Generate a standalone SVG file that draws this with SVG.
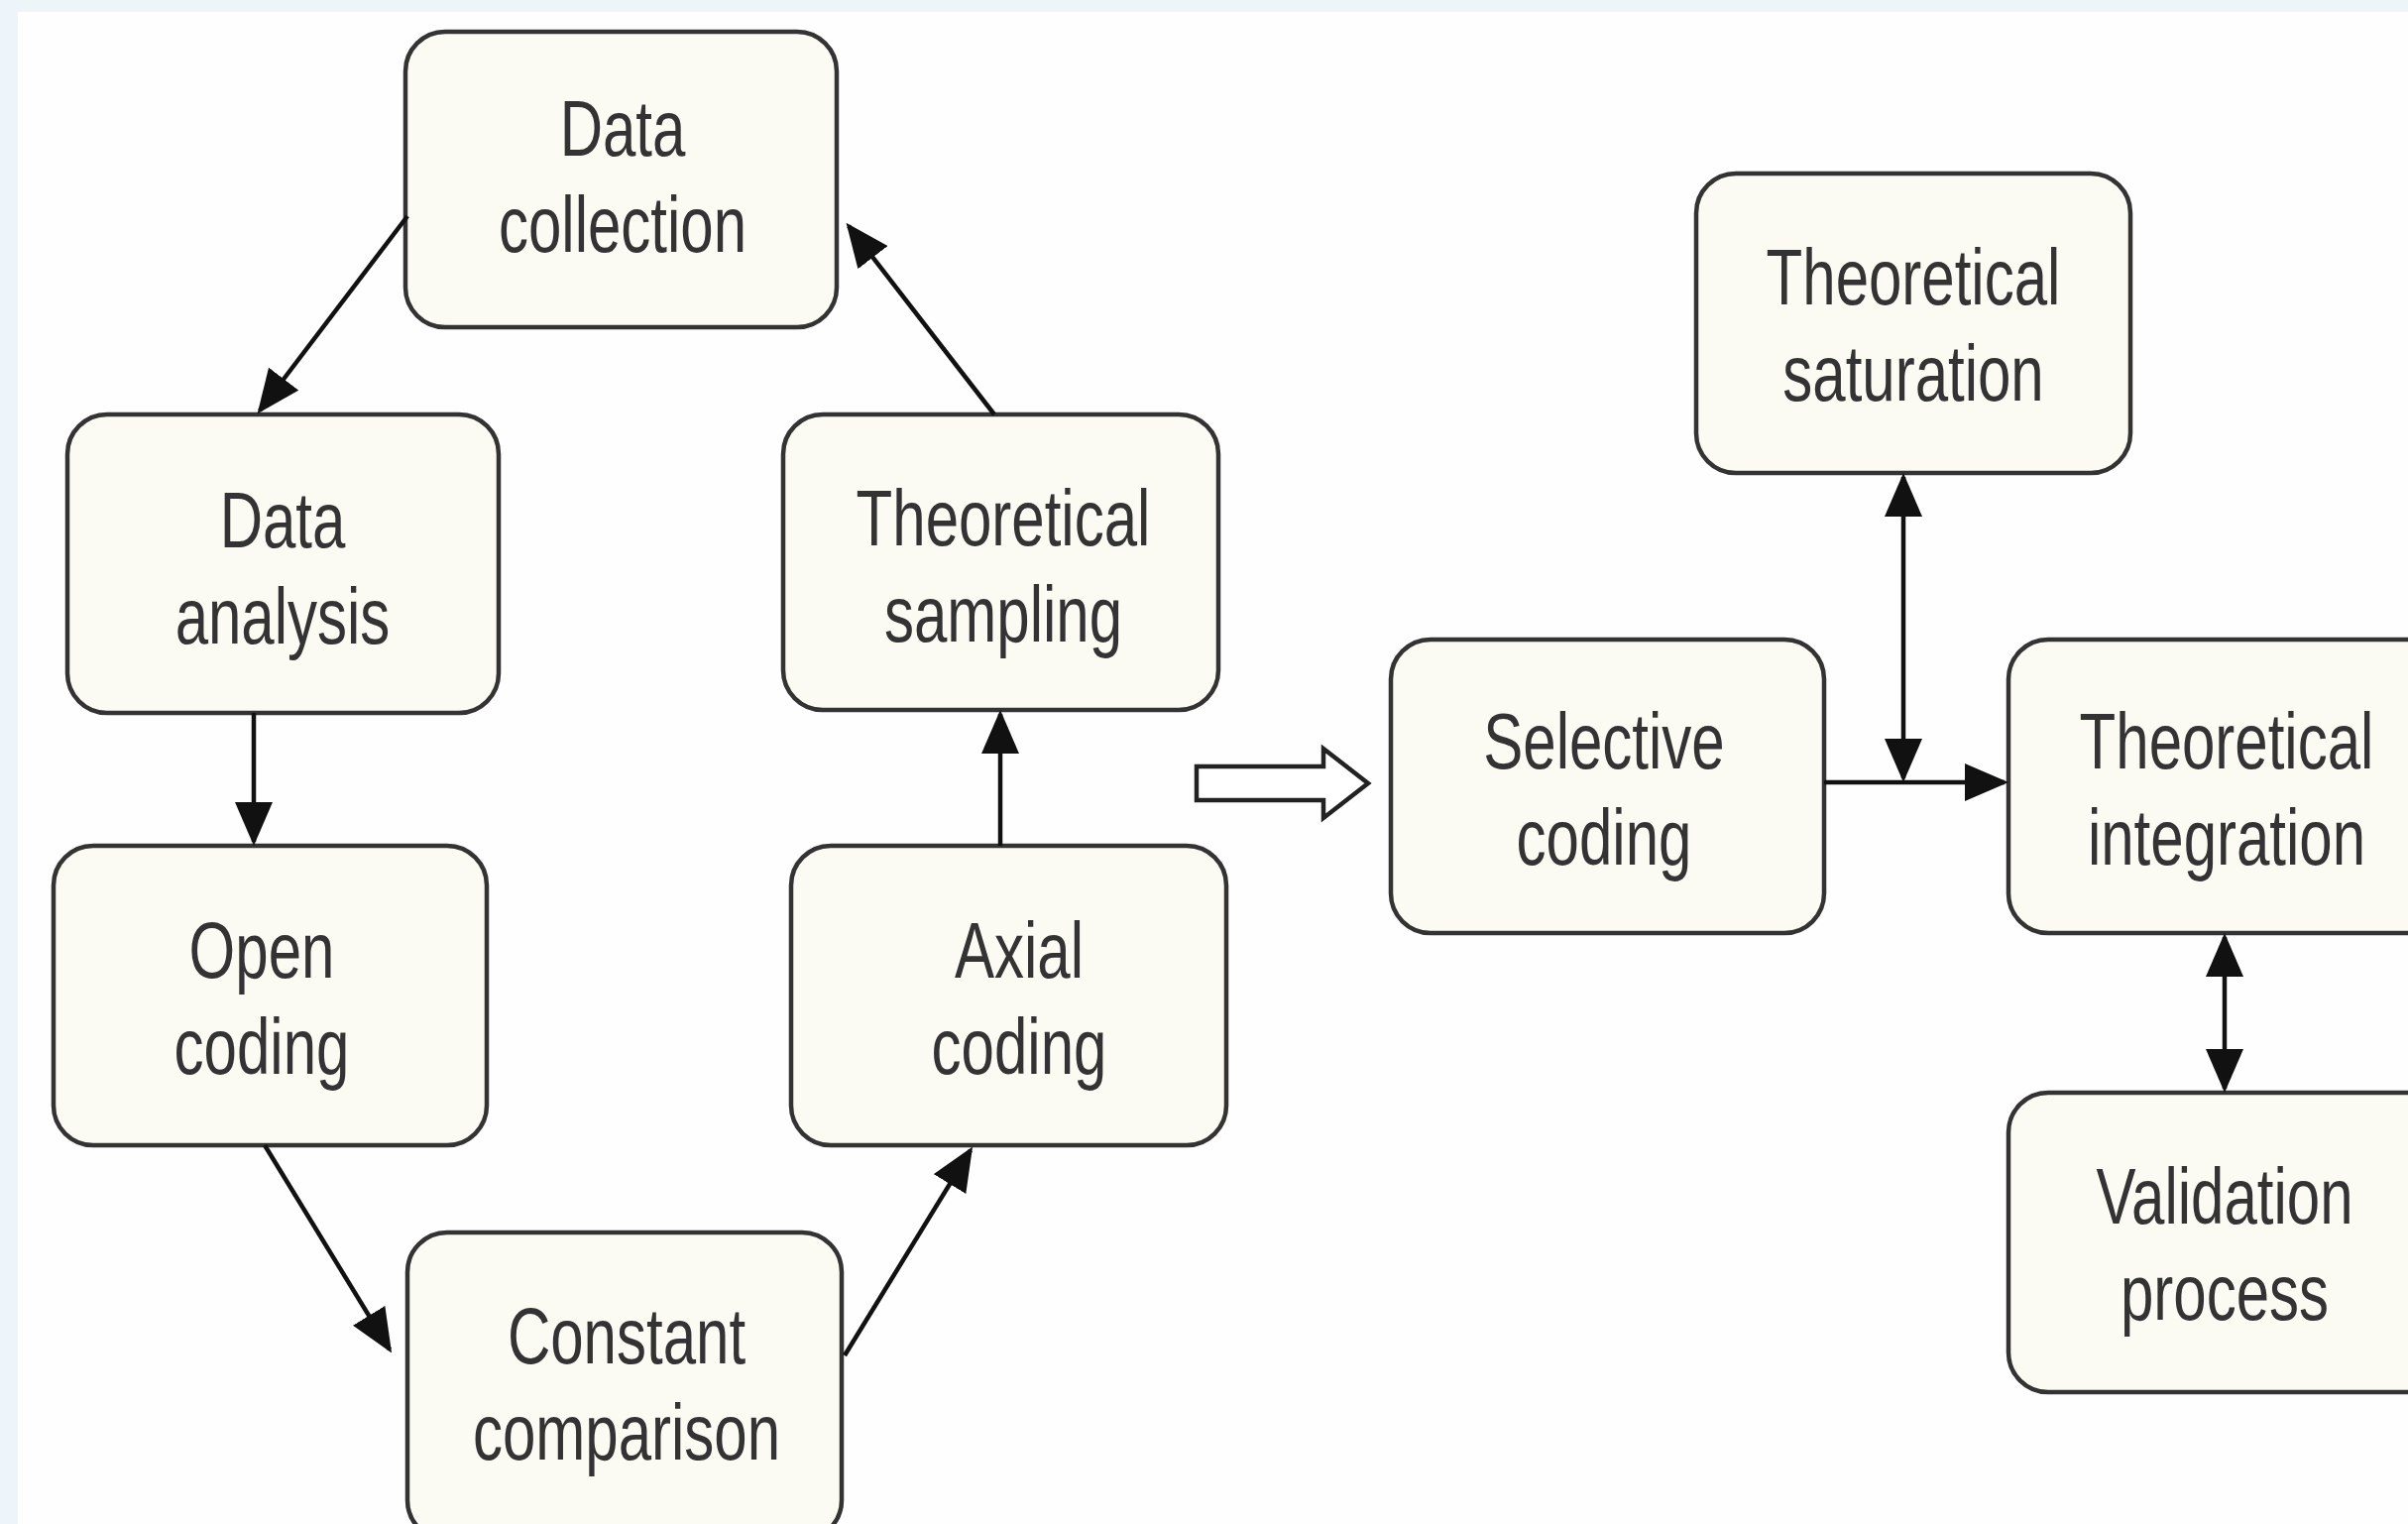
<svg xmlns="http://www.w3.org/2000/svg" width="2429" height="1537" viewBox="0 0 2429 1537">
<style>
.box{fill:#fcfbf3;stroke:#333;stroke-width:4.5}
.lbl{font-family:"Liberation Sans",Arial,sans-serif;font-size:80px;fill:#333;text-anchor:middle}
.con{stroke:#111;stroke-width:4.5;fill:none}
</style>
<defs>
<marker id="ah" viewBox="0 0 44 38" refX="40" refY="19" markerWidth="44" markerHeight="38" markerUnits="userSpaceOnUse" orient="auto-start-reverse">
<path d="M0,0 L44,19 L0,38 z" fill="#111"/>
</marker>
</defs>
<rect width="2429" height="1537" fill="#fefefe"/>
<rect width="2429" height="12" fill="#eef5f9"/>
<rect width="18" height="1537" fill="#edf5fa"/>

<g id="data-collection">
<rect class="box" x="409" y="32" width="435" height="298" rx="40"/>
<text class="lbl" transform="translate(628,157) scale(0.75 1)">Data</text>
<text class="lbl" transform="translate(628,254) scale(0.75 1)">collection</text>
</g>
<g id="data-analysis">
<rect class="box" x="68" y="418" width="435" height="301" rx="40"/>
<text class="lbl" transform="translate(285,552) scale(0.75 1)">Data</text>
<text class="lbl" transform="translate(285,649) scale(0.75 1)">analysis</text>
</g>
<g id="open-coding">
<rect class="box" x="54" y="853" width="437" height="302" rx="40"/>
<text class="lbl" transform="translate(264,986) scale(0.75 1)">Open</text>
<text class="lbl" transform="translate(264,1083) scale(0.75 1)">coding</text>
</g>
<g id="constant-comparison">
<rect class="box" x="411" y="1243" width="438" height="310" rx="40"/>
<text class="lbl" transform="translate(632,1375) scale(0.75 1)">Constant</text>
<text class="lbl" transform="translate(632,1472) scale(0.75 1)">comparison</text>
</g>
<g id="axial-coding">
<rect class="box" x="798" y="853" width="439" height="302" rx="40"/>
<text class="lbl" transform="translate(1028,986) scale(0.75 1)">Axial</text>
<text class="lbl" transform="translate(1028,1083) scale(0.75 1)">coding</text>
</g>
<g id="theoretical-sampling">
<rect class="box" x="790" y="418" width="439" height="298" rx="40"/>
<text class="lbl" transform="translate(1012,550) scale(0.75 1)">Theoretical</text>
<text class="lbl" transform="translate(1012,647) scale(0.75 1)">sampling</text>
</g>
<g id="selective-coding">
<rect class="box" x="1403" y="645" width="437" height="296" rx="40"/>
<text class="lbl" transform="translate(1618,775) scale(0.75 1)">Selective</text>
<text class="lbl" transform="translate(1618,872) scale(0.75 1)">coding</text>
</g>
<g id="theoretical-saturation">
<rect class="box" x="1711" y="175" width="438" height="302" rx="40"/>
<text class="lbl" transform="translate(1930,307) scale(0.75 1)">Theoretical</text>
<text class="lbl" transform="translate(1930,404) scale(0.75 1)">saturation</text>
</g>
<g id="theoretical-integration">
<rect class="box" x="2026" y="645" width="440" height="296" rx="40"/>
<text class="lbl" transform="translate(2246,775) scale(0.75 1)">Theoretical</text>
<text class="lbl" transform="translate(2246,872) scale(0.75 1)">integration</text>
</g>
<g id="validation-process">
<rect class="box" x="2026" y="1102" width="440" height="302" rx="40"/>
<text class="lbl" transform="translate(2244,1234) scale(0.75 1)">Validation</text>
<text class="lbl" transform="translate(2244,1331) scale(0.75 1)">process</text>
</g>

<g id="connectors">
<line class="con" x1="411" y1="218" x2="262" y2="414" marker-end="url(#ah)"/>
<line class="con" x1="256" y1="719" x2="256" y2="849" marker-end="url(#ah)"/>
<line class="con" x1="267" y1="1155" x2="393" y2="1361" marker-end="url(#ah)"/>
<line class="con" x1="852" y1="1367" x2="979" y2="1160" marker-end="url(#ah)"/>
<line class="con" x1="1009" y1="853" x2="1009" y2="720" marker-end="url(#ah)"/>
<line class="con" x1="1003" y1="418" x2="856" y2="228" marker-end="url(#ah)"/>
<path d="M1207,773 L1335,773 L1335,755 L1380,790 L1335,825 L1335,807 L1207,807 Z" fill="#fff" stroke="#222" stroke-width="4.5" stroke-linejoin="miter"/>
<line class="con" x1="1840" y1="789" x2="2022" y2="789" marker-end="url(#ah)"/>
<line class="con" x1="1920" y1="481" x2="1920" y2="785" marker-start="url(#ah)" marker-end="url(#ah)"/>
<line class="con" x1="2244" y1="945" x2="2244" y2="1098" marker-start="url(#ah)" marker-end="url(#ah)"/>
</g>
</svg>
